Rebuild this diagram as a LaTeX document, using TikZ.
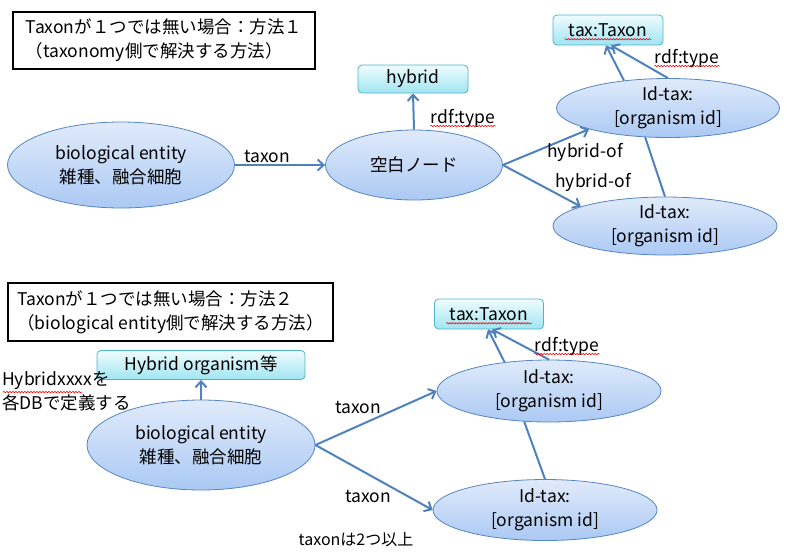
\documentclass[tikz,border=0pt]{standalone}
\usepackage{fontspec}
\setmainfont{Noto Sans CJK JP}
\usetikzlibrary{arrows.meta,shapes.geometric,decorations.pathmorphing}
\definecolor{edgeblue}{HTML}{4F81BD}
\definecolor{ellline}{HTML}{5585C2}
\definecolor{elltop}{HTML}{E0EBFB}
\definecolor{ellbot}{HTML}{ABC9F4}
\definecolor{boxline}{HTML}{4FB3CC}
\definecolor{boxtop}{HTML}{F0FCFE}
\definecolor{boxbot}{HTML}{A0E5F2}

\begin{document}
\begin{tikzpicture}[x=1pt,y=-1pt,
  every node/.style={font=\fontsize{17.5}{24}\selectfont},
  titlebox/.style={draw, line width=1.6pt, align=left, inner sep=0},
  res/.style={ellipse, draw=ellline, line width=0.8pt, top color=elltop, bottom color=ellbot, align=center, inner xsep=0, inner ysep=-9pt},
  cls/.style={rectangle, rounded corners=4pt, draw=boxline, line width=0.8pt, top color=boxtop, bottom color=boxbot, inner sep=0},
  rel/.style={draw=edgeblue, line width=2pt, -{Straight Barb[length=6pt,width=11pt]}},
  plain/.style={draw=edgeblue, line width=2pt},
  squig/.style={draw=red, line width=0.6pt, decorate, decoration={snake, amplitude=0.7pt, segment length=3pt}}
]
\useasboundingbox (0,0) rectangle (791,555);

% method 1
\node[titlebox, minimum width=302, minimum height=57] (t1) at (164,40.5)
  {Taxonが１つでは無い場合：方法１\\（taxonomy側で解決する方法）};
\node[res, minimum width=227, minimum height=86] (be1) at (121,165) {biological entity\\雑種、融合細胞};
\node[res, minimum width=177, minimum height=70] (blank) at (414,165) {空白ノード};
\node[cls, minimum width=110, minimum height=28] (hyb) at (413,79) {hybrid};
\node[res, minimum width=223, minimum height=59] (id1a) at (668,108) {Id-tax:\\{[organism id]}};
\node[res, minimum width=224, minimum height=58] (id1b) at (665,226) {Id-tax:\\{[organism id]}};
\node[cls, minimum width=110, minimum height=30] (tax1) at (608,30) {tax:Taxon};

\draw[rel] (be1.east) -- (blank.west);
\draw[rel] (blank.north) -- (hyb.south);
\draw[rel] (blank.east) -- (id1a.195);
\draw[rel] (blank.east) -- (id1b.167);
\draw[rel] (id1a.148) -- ([xshift=-2]tax1.south);
\draw[rel] (id1a.north) -- ([xshift=3]tax1.south);
\draw[plain] (id1b.north) -- (id1a.232);

\node (l1) at (267,157) {taxon};
\node (l2) at (463,118) {rdf:type};
\node (l3) at (585,152) {hybrid-of};
\node (l4) at (593,182) {hybrid-of};
\node (l5) at (687,58) {rdf:type};

% method 2
\node[titlebox, minimum width=325, minimum height=58] (t2) at (170.5,312)
  {Taxonが１つでは無い場合：方法２\\（biological entity側で解決する方法）};
\node[cls, minimum width=208, minimum height=29] (hyo) at (201,365) {Hybrid organism等};
\node[anchor=west, align=left, inner sep=0] (note) at (2,391) {Hybridxxxxを\\各DBで定義する};
\node[res, minimum width=228, minimum height=90] (be2) at (201,445) {biological entity\\雑種、融合細胞};
\node[res, minimum width=224, minimum height=62] (id2a) at (549,391) {Id-tax:\\{[organism id]}};
\node[res, minimum width=224, minimum height=61] (id2b) at (545,510) {Id-tax:\\{[organism id]}};
\node[cls, minimum width=109, minimum height=30] (tax2) at (489,314) {tax:Taxon};

\draw[rel] (be2.north) -- (hyo.south);
\draw[rel] (be2.east) -- (id2a.west);
\draw[rel] (be2.east) -- (id2b.west);
\draw[rel] (id2a.147) -- ([xshift=-1]tax2.south);
\draw[rel] (id2a.north) -- ([xshift=3]tax2.south);
\draw[plain] (id2b.north) -- (id2a.231);

\node (m1) at (358,408) {taxon};
\node (m2) at (368,497) {taxon};
\node (m3) at (567,346) {rdf:type};
\node[font=\fontsize{16}{20}\selectfont] (m4) at (356,540) {taxonは2つ以上};

% spell-check marks
\draw[squig] ([xshift=3,yshift=-3]l2.base west) -- ([xshift=-3,yshift=-3]l2.base east);
\draw[squig] ([xshift=3,yshift=-3]l5.base west) -- ([xshift=-3,yshift=-3]l5.base east);
\draw[squig] ([xshift=3,yshift=-3]m3.base west) -- ([xshift=-3,yshift=-3]m3.base east);
\draw[squig] ([xshift=12,yshift=-3]tax1.base west) -- ([xshift=-12,yshift=-3]tax1.base east);
\draw[squig] ([xshift=12,yshift=-3]tax2.base west) -- ([xshift=-12,yshift=-3]tax2.base east);
\draw[squig] ([xshift=1,yshift=-21]note.north west) -- ([xshift=80,yshift=-21]note.north west);
\end{tikzpicture}
\end{document}
